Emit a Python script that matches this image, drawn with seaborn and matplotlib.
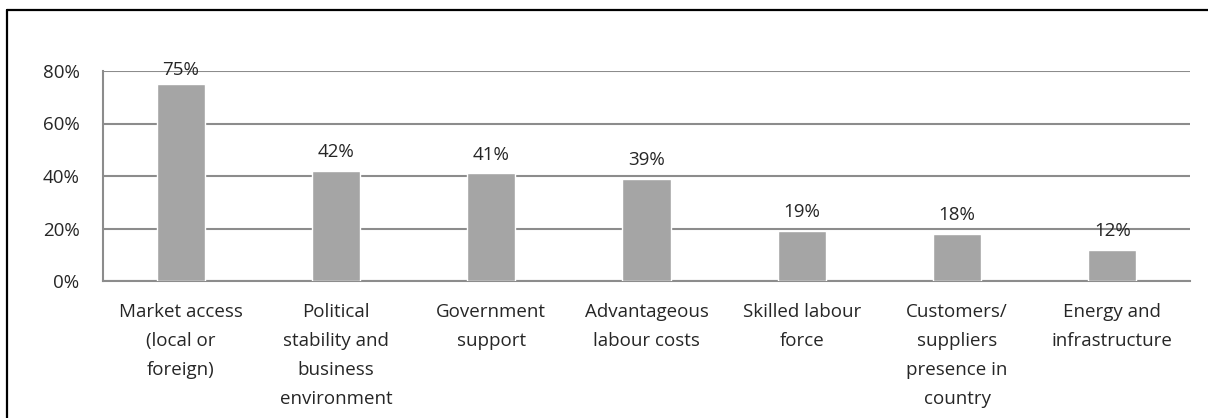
import matplotlib
matplotlib.use("Agg")
import matplotlib.pyplot as plt
from matplotlib.lines import Line2D
from matplotlib.ticker import FuncFormatter
import seaborn as sns
import pandas as pd

categories = [
    "Market access\n(local or\nforeign)",
    "Political\nstability and\nbusiness\nenvironment",
    "Government\nsupport",
    "Advantageous\nlabour costs",
    "Skilled labour\nforce",
    "Customers/\nsuppliers\npresence in\ncountry",
    "Energy and\ninfrastructure",
]
values = [0.75, 0.42, 0.41, 0.39, 0.19, 0.18, 0.12]
y_ticks = [0.0, 0.2, 0.4, 0.6, 0.8]

sns.set_theme(style="white")
plt.rcParams["font.family"] = ["Open Sans", "DejaVu Sans"]

df = pd.DataFrame({"category": categories, "value": values})

fig = plt.figure(figsize=(12.08, 4.18), dpi=100)
ax = fig.add_axes([103 / 1208, 1 - 281 / 418, (1190 - 103) / 1208, (281 - 71) / 418])

sns.barplot(data=df, x="category", y="value", order=categories, color="#a5a5a5",
            saturation=1, width=0.31, ax=ax, zorder=3)

FS = 13.5
YMAX = 0.8
ax.set_ylim(0, YMAX)
ax.set_xlim(-0.5, len(categories) - 0.5)
ax.set_yticks(y_ticks)
ax.yaxis.set_major_formatter(FuncFormatter(lambda v, p: f"{v*100:.0f}%"))
ax.grid(axis="y", color="#8c8c8c", linewidth=1.5, zorder=0)
ax.grid(axis="x", visible=False)
for s in ["top", "right"]:
    ax.spines[s].set_visible(False)
for s in ["left", "bottom"]:
    ax.spines[s].set_color("#8c8c8c")
    ax.spines[s].set_linewidth(1.5)
    ax.spines[s].set_zorder(1)
ax.set_xlabel("")
ax.set_ylabel("")
ax.tick_params(axis="y", length=0, pad=17, labelsize=FS, labelcolor="#262626")
ax.tick_params(axis="x", length=0, pad=16, labelsize=FS, labelcolor="#262626")
for lab in ax.get_xticklabels():
    lab.set_linespacing(1.78)
    lab.set_verticalalignment("top")

for c in ax.containers:
    anns = ax.bar_label(c, labels=[f"{v*100:.0f}%" for v in values], padding=7,
                        fontsize=FS, color="#262626")
    for ann, v in zip(anns, values):
        if v > YMAX - 0.1:
            ann.xyann = (0, 3.5)

fig.add_artist(Line2D([7.5 / 1208, 7.5 / 1208], [0, 1 - 10 / 418], color="black", linewidth=1.6,
                      transform=fig.transFigure))
fig.add_artist(Line2D([7.5 / 1208, 1], [1 - 10 / 418, 1 - 10 / 418], color="black", linewidth=1.6,
                      transform=fig.transFigure))

fig.savefig("out.png", dpi=100)
